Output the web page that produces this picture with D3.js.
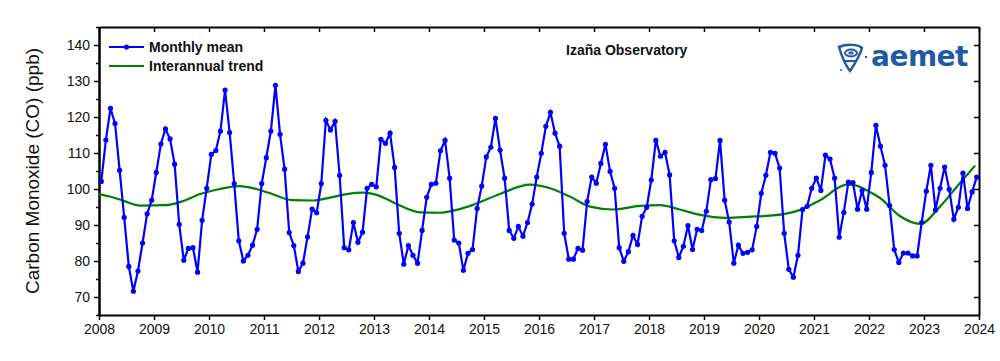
<!DOCTYPE html>
<html>
<head>
<meta charset="utf-8">
<script src="https://cdn.jsdelivr.net/npm/d3@7"></script>
<style>
  body { margin: 0; background: #fff; }
  text { font-family: "Liberation Sans", Arial, sans-serif; fill: #111; }
  .legend-text { font-weight: bold; font-size: 14px; }
</style>
</head>
<body>
<div class="chart"></div>
<script>
var svgWidth = 1000;
var svgHeight = 361;

var margin = { top: 27, right: 21, bottom: 46, left: 99 };
var width = svgWidth - margin.left - margin.right;
var height = svgHeight - margin.top - margin.bottom;

// monthly means, Jan 2008 .. Dec 2023 (ppb)
var startYear = 2008;
var monthlyCO = [
  102.1, 113.6, 122.4, 118.2, 105.2, 92.1, 78.5, 71.6, 77.2, 85.0, 93.1, 96.9,
  104.6, 112.5, 116.7, 113.9, 106.9, 90.2, 80.2, 83.5, 83.7, 76.9, 91.3, 100.2,
  109.6, 110.7, 116.1, 127.5, 115.7, 101.5, 85.6, 80.0, 81.6, 84.4, 88.8, 101.5,
  108.7, 116.1, 128.8, 115.2, 105.5, 87.9, 84.3, 77.1, 79.4, 86.7, 94.4, 93.4,
  101.5, 119.1, 116.4, 118.8, 103.8, 83.7, 83.1, 90.7, 85.2, 88.0, 100.2, 101.3,
  100.6, 113.8, 112.7, 115.5, 106.0, 87.7, 79.1, 84.3, 81.6, 79.4, 88.5, 97.7,
  101.3, 101.6, 110.6, 113.5, 103.0, 85.8, 85.0, 77.4, 82.1, 83.2, 94.6, 100.8,
  108.9, 111.6, 119.6, 110.8, 103.0, 88.5, 86.3, 89.6, 86.9, 90.7, 95.8, 103.3,
  109.9, 117.4, 121.3, 115.5, 111.9, 87.7, 80.5, 80.5, 83.5, 83.0, 96.5, 103.3,
  101.6, 107.1, 112.4, 104.9, 100.2, 83.7, 79.9, 82.6, 87.1, 84.6, 92.4, 94.9,
  102.5, 113.5, 109.1, 110.2, 103.9, 85.6, 81.0, 84.1, 89.8, 83.2, 88.8, 88.5,
  93.8, 102.6, 102.9, 113.5, 96.9, 90.8, 79.4, 84.4, 82.1, 82.4, 83.1, 89.6,
  98.8, 103.8, 110.2, 109.9, 105.8, 87.7, 77.7, 75.5, 81.6, 94.3, 95.2, 100.2,
  103.0, 99.6, 109.4, 108.3, 103.0, 86.6, 93.5, 101.9, 101.8, 94.4, 99.6, 94.4,
  104.6, 117.7, 111.9, 106.6, 95.4, 83.2, 79.6, 82.2, 82.2, 81.4, 81.4, 90.7,
  99.4, 106.6, 94.2, 100.2, 106.1, 99.9, 91.6, 94.9, 104.4, 94.6, 99.2, 103.3
];

// interannual trend
var trendYear = [2008.0, 2008.2, 2008.45, 2008.75, 2009.2, 2009.5, 2009.84, 2010.2, 2010.55,
  2011.1, 2011.5, 2011.9, 2012.2, 2012.5, 2012.8, 2013.1, 2013.4, 2013.84, 2014.2, 2014.5,
  2014.8, 2015.3, 2015.84, 2016.2, 2016.56, 2016.93, 2017.35, 2017.84, 2018.2, 2018.56,
  2018.93, 2019.4, 2019.84, 2020.2, 2020.45, 2020.75, 2021.11, 2021.6, 2021.75, 2022.0,
  2022.2, 2022.56, 2022.93, 2023.29, 2023.65, 2023.93];
var trendCO = [98.6, 97.9, 96.7, 95.4, 95.5, 96.5, 98.6, 100.0, 100.8,
  98.9, 96.9, 96.8, 97.6, 98.6, 99.0, 98.1, 95.9, 93.5, 93.4, 94.2,
  95.6, 98.7, 101.2, 100.2, 97.9, 95.1, 94.3, 95.3, 95.5, 94.3,
  92.8, 92.0, 92.3, 92.6, 93.0, 94.2, 96.9, 101.2, 101.0, 99.3,
  97.5, 92.5, 90.3, 95.1, 101.6, 106.5];

var yearTicks = d3.range(2008, 2025);
var yTicks = [70, 80, 90, 100, 110, 120, 130, 140];
var yMinorTicks = [65, 75, 85, 95, 105, 115, 125, 135, 145];

var monthly = monthlyCO.map(function(v, i) {
  return { t: startYear + (i + 0.5) / 12, v: v };
});
var trend = trendYear.map(function(t, i) { return { t: t, v: trendCO[i] }; });

var svg = d3.select(".chart").append("svg")
  .attr("width", svgWidth)
  .attr("height", svgHeight);

var chartGroup = svg.append("g")
  .attr("transform", `translate(${margin.left}, ${margin.top})`);

var xScale = d3.scaleLinear().domain([2008, 2024]).range([0, width]);
var yScale = d3.scaleLinear().domain([65, 145]).range([height, 0]);

// axes (frame)
var bottomAxis = d3.axisBottom(xScale).tickValues(yearTicks).tickFormat(d3.format("d"))
  .tickSize(5).tickSizeOuter(0).tickPadding(4);
var topAxis = d3.axisTop(xScale).tickValues(yearTicks).tickFormat("")
  .tickSize(-5).tickSizeOuter(0);
var leftAxis = d3.axisLeft(yScale).tickValues(yTicks).tickSize(5).tickSizeOuter(0).tickPadding(4);
var leftMinor = d3.axisLeft(yScale).tickValues(yMinorTicks).tickFormat("").tickSize(3).tickSizeOuter(0);
var rightAxis = d3.axisRight(yScale).tickValues(yTicks).tickFormat("").tickSize(-5).tickSizeOuter(0);

function styleAxis(g) {
  g.selectAll("path").attr("stroke", "#000").attr("stroke-width", 2);
  g.selectAll("line").attr("stroke", "#000").attr("stroke-width", 1.5);
  g.selectAll("text").style("font-size", "14px").attr("fill", "#111");
}

chartGroup.append("g").attr("transform", `translate(0, ${height})`).call(bottomAxis).call(styleAxis);
chartGroup.append("g").call(topAxis).call(styleAxis);
chartGroup.append("g").call(leftAxis).call(styleAxis);
chartGroup.append("g").call(leftMinor).call(styleAxis);
chartGroup.append("g").attr("transform", `translate(${width}, 0)`).call(rightAxis).call(styleAxis);

// trend line
var trendLine = d3.line()
  .x(d => xScale(d.t))
  .y(d => yScale(d.v))
  .curve(d3.curveMonotoneX);

chartGroup.append("path")
  .datum(trend)
  .attr("d", trendLine)
  .attr("fill", "none")
  .attr("stroke", "#008000")
  .attr("stroke-width", 2.2);

// monthly line + markers
var monthLine = d3.line()
  .x(d => xScale(d.t))
  .y(d => yScale(d.v));

chartGroup.append("path")
  .datum(monthly)
  .attr("d", monthLine)
  .attr("fill", "none")
  .attr("stroke", "#0000ff")
  .attr("stroke-width", 2.2);

chartGroup.selectAll(".dot")
  .data(monthly)
  .enter()
  .append("circle")
  .attr("class", "dot")
  .attr("cx", d => xScale(d.t))
  .attr("cy", d => yScale(d.v))
  .attr("r", 2.6)
  .attr("fill", "#0000ff");

// y label
svg.append("text")
  .attr("transform", "rotate(-90)")
  .attr("x", -171)
  .attr("y", 39)
  .attr("text-anchor", "middle")
  .style("font-size", "19px")
  .text("Carbon Monoxide (CO) (ppb)");

// legend
var legend = svg.append("g");
legend.append("line")
  .attr("x1", 109).attr("x2", 144).attr("y1", 47).attr("y2", 47)
  .attr("stroke", "#0000ff").attr("stroke-width", 2);
legend.append("circle")
  .attr("cx", 126.5).attr("cy", 47).attr("r", 2.6).attr("fill", "#0000ff");
legend.append("text").attr("class", "legend-text")
  .attr("x", 149).attr("y", 52).text("Monthly mean");
legend.append("line")
  .attr("x1", 109).attr("x2", 144).attr("y1", 66).attr("y2", 66)
  .attr("stroke", "#008000").attr("stroke-width", 2);
legend.append("text").attr("class", "legend-text")
  .attr("x", 149).attr("y", 71).text("Interannual trend");

// title
svg.append("text").attr("class", "legend-text")
  .attr("x", 566).attr("y", 55).text("Izaña Observatory");

// aemet logo (approximation)
var logo = svg.append("g").attr("fill", "none").attr("stroke", "#1f5aa6");
logo.append("path")
  .attr("d", "M839,47 C846,44 858,44 862,48 C860,55 856,62 850,71 C846,66 842,57 839,47 Z")
  .attr("stroke-width", 2.5);
logo.append("ellipse").attr("cx", 851).attr("cy", 53).attr("rx", 6).attr("ry", 3.5).attr("stroke-width", 2);
logo.append("ellipse").attr("cx", 851).attr("cy", 53).attr("rx", 2).attr("ry", 1).attr("stroke-width", 1.5);
logo.append("line").attr("x1", 844).attr("x2", 856).attr("y1", 61).attr("y2", 61).attr("stroke-width", 2);
logo.append("circle").attr("cx", 866).attr("cy", 57).attr("r", 1.2).attr("fill", "#1f5aa6").attr("stroke", "none");
logo.append("circle").attr("cx", 841).attr("cy", 70).attr("r", 1).attr("fill", "#1f5aa6").attr("stroke", "none");
svg.append("text")
  .attr("x", 871).attr("y", 66)
  .style("font-family", "'DejaVu Sans', sans-serif")
  .style("font-weight", "bold")
  .style("font-size", "28px")
  .style("letter-spacing", "-0.5px")
  .style("fill", "#1f5aa6")
  .text("aemet");
</script>
</body>
</html>
